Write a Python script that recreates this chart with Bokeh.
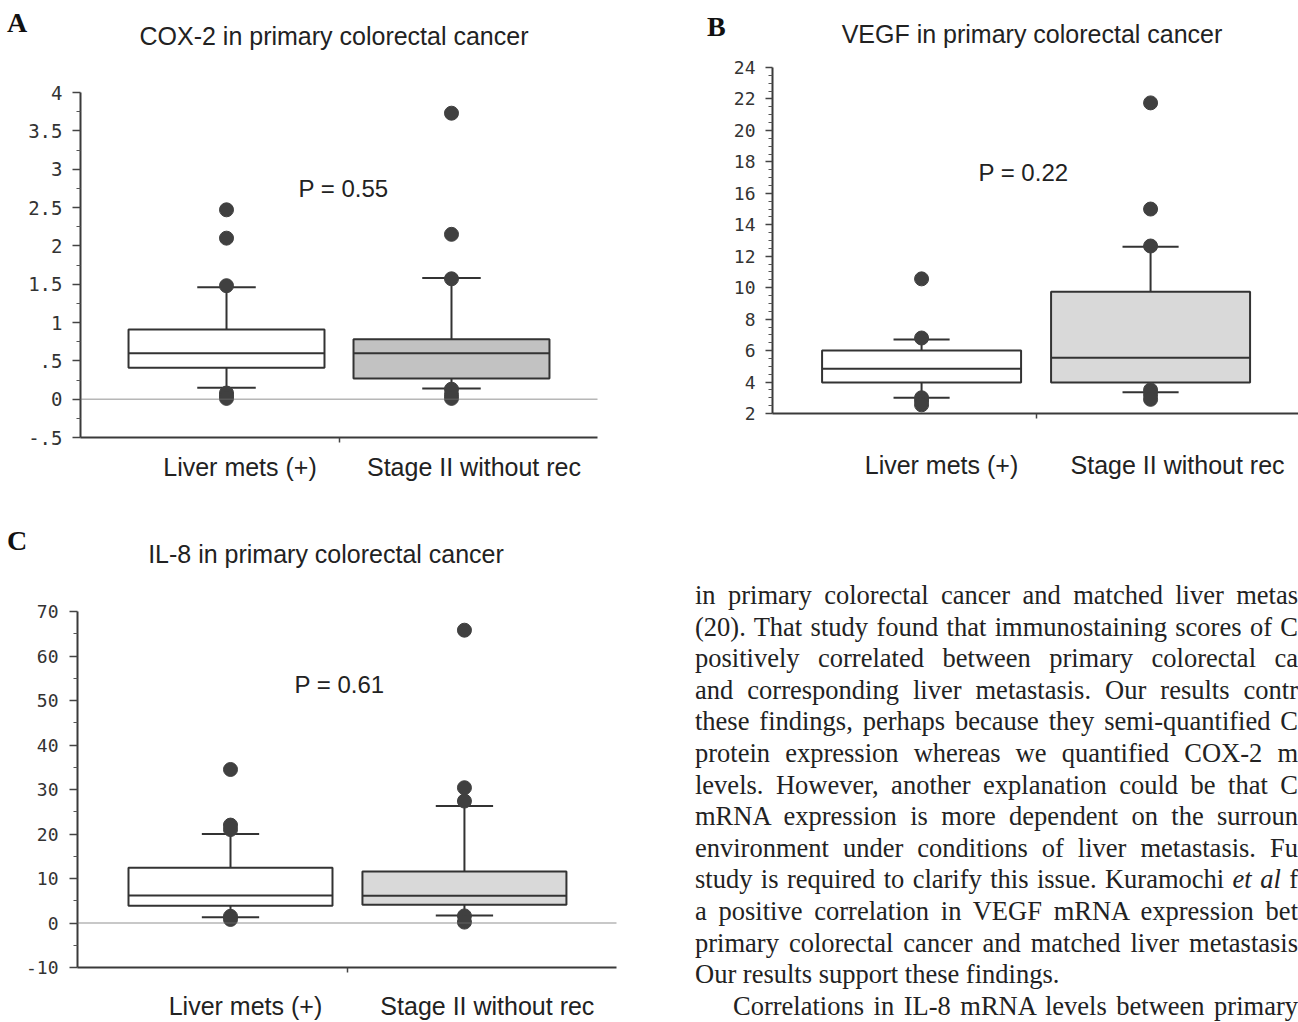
from bokeh.plotting import figure
from bokeh.layouts import row, column
from bokeh.models import FixedTicker, Span, Label, Range1d, ColumnDataSource, Div
from bokeh.embed import file_html
from bokeh.resources import INLINE

groups = ["Liver mets (+)", "Stage II without rec"]
positions = [1, 2]

# ---- Panel A: COX-2 ----
cox_q1 = [0.41, 0.27]
cox_med = [0.60, 0.60]
cox_q3 = [0.91, 0.78]
cox_lo = [0.15, 0.14]
cox_hi = [1.46, 1.58]
cox_out_liver = [2.47, 2.10, 1.48, 0.08, 0.04, 0.01]
cox_out_stage = [3.73, 2.15, 1.57, 0.13, 0.06, 0.01]
cox_ticks = [-0.5, 0, 0.5, 1, 1.5, 2, 2.5, 3, 3.5, 4]
cox_tick_labels = ["-.5", "0", ".5", "1", "1.5", "2", "2.5", "3", "3.5", "4"]
cox_minor = [-0.25, 0.25, 0.75, 1.25, 1.75, 2.25, 2.75, 3.25, 3.75]

# ---- Panel B: VEGF ----
vegf_q1 = [3.97, 3.97]
vegf_med = [4.85, 5.55]
vegf_q3 = [6.0, 9.74]
vegf_lo = [3.0, 3.35]
vegf_hi = [6.7, 12.6]
vegf_out_liver = [10.56, 6.8, 3.0, 2.8, 2.55]
vegf_out_stage = [21.75, 15.0, 12.65, 3.5, 3.2, 2.9]
vegf_ticks = [2, 4, 6, 8, 10, 12, 14, 16, 18, 20, 22, 24]
vegf_tick_labels = [str(v) for v in vegf_ticks]
vegf_minor = [v / 2 for v in range(4, 49) if v % 4 != 0]

# ---- Panel C: IL-8 ----
il8_q1 = [3.9, 4.1]
il8_med = [6.2, 6.1]
il8_q3 = [12.4, 11.6]
il8_lo = [1.3, 1.7]
il8_hi = [20.0, 26.3]
il8_out_liver = [34.5, 22.0, 21.0, 1.5, 0.8]
il8_out_stage = [65.8, 30.4, 27.4, 1.6, 0.2]
il8_ticks = [-10, 0, 10, 20, 30, 40, 50, 60, 70]
il8_tick_labels = [str(v) for v in il8_ticks]
il8_minor = [-5, 5, 15, 25, 35, 45, 55, 65]

EDGE = "#333333"
TXT = "#222222"


def header(w, h, letter, lx, ltop, title, tx, ttop):
    half = min(tx, w - tx)
    html = (
        f'<div style="position:relative;width:{w}px;height:{h}px;overflow:hidden;">'
        f'<div style="position:absolute;left:{lx}px;top:{ltop}px;font-family:\'Liberation Serif\',serif;'
        f'font-weight:bold;font-size:28px;line-height:32px;color:#111;">{letter}</div>'
        f'<div style="position:absolute;left:{tx - half}px;width:{2 * half}px;top:{ttop}px;'
        f'text-align:center;font-family:\'Liberation Sans\',sans-serif;font-size:25px;'
        f'line-height:30px;color:#222;white-space:nowrap;">{title}</div>'
        '</div>'
    )
    return Div(text=html, width=w, height=h, margin=(0, 0, 0, 0))


def panel(w, h, borders, xr, yr, yt, yl, ym, tick_px, ytick_out, ystand,
          xlab_pos, xstand, q1, med, q3, lo, hi, out1, out2, fill2,
          box_w, cap_w, ptext, pxy, zero):
    bl, br, bt, bb = borders
    p = figure(width=w, height=h, x_range=Range1d(*xr), y_range=Range1d(*yr),
               toolbar_location=None, tools="", output_backend="svg",
               min_border_left=bl, min_border_right=br,
               min_border_top=bt, min_border_bottom=bb, margin=(0, 0, 0, 0))
    p.outline_line_color = None
    p.xgrid.visible = False
    p.ygrid.visible = False
    p.background_fill_color = "white"
    p.border_fill_color = "white"

    ya = p.yaxis[0]
    ya.ticker = FixedTicker(ticks=yt, minor_ticks=ym)
    ya.major_label_overrides = {float(v): s for v, s in zip(yt, yl)}
    ya.axis_line_color = "#3a3a3a"
    ya.axis_line_width = 2
    ya.major_tick_line_color = "#444444"
    ya.major_tick_line_width = 1.5
    ya.major_tick_out = ytick_out
    ya.major_tick_in = 0
    ya.minor_tick_line_color = "#555555"
    ya.minor_tick_line_width = 1.2
    ya.minor_tick_out = 4
    ya.minor_tick_in = 0
    ya.major_label_text_font = "DejaVu Sans Mono"
    ya.major_label_text_font_size = tick_px
    ya.major_label_text_color = "#333333"
    ya.major_label_standoff = ystand

    xa = p.xaxis[0]
    xa.ticker = FixedTicker(ticks=xlab_pos, minor_ticks=[1.5])
    xa.major_label_overrides = {xlab_pos[0]: groups[0], xlab_pos[1]: groups[1]}
    xa.axis_line_color = "#3a3a3a"
    xa.axis_line_width = 2
    xa.major_tick_line_color = None
    xa.major_tick_out = 0
    xa.major_tick_in = 0
    xa.minor_tick_line_color = "#444444"
    xa.minor_tick_line_width = 1.5
    xa.minor_tick_out = 5
    xa.minor_tick_in = 0
    xa.major_label_text_font = "Liberation Sans"
    xa.major_label_text_font_size = "25px"
    xa.major_label_text_color = TXT
    xa.major_label_standoff = xstand

    if zero:
        p.add_layout(Span(location=0, dimension="width", line_color="#6e6e6e",
                          line_width=1.5, line_dash="1 1"))

    src = ColumnDataSource(dict(
        x=positions, q1=q1, med=med, q3=q3, lo=lo, hi=hi,
        fill=["white", fill2],
        bx0=[x - box_w / 2 for x in positions], bx1=[x + box_w / 2 for x in positions],
        cx0=[x - cap_w / 2 for x in positions], cx1=[x + cap_w / 2 for x in positions],
    ))
    p.segment(x0="x", y0="q3", x1="x", y1="hi", source=src, line_color=EDGE, line_width=2)
    p.segment(x0="x", y0="lo", x1="x", y1="q1", source=src, line_color=EDGE, line_width=2)
    p.segment(x0="cx0", y0="hi", x1="cx1", y1="hi", source=src, line_color=EDGE, line_width=2)
    p.segment(x0="cx0", y0="lo", x1="cx1", y1="lo", source=src, line_color=EDGE, line_width=2)
    p.vbar(x="x", width=box_w, bottom="q1", top="q3", source=src,
           fill_color="fill", line_color=EDGE, line_width=2)
    p.segment(x0="bx0", y0="med", x1="bx1", y1="med", source=src, line_color=EDGE, line_width=2)
    ox = [positions[0]] * len(out1) + [positions[1]] * len(out2)
    oy = list(out1) + list(out2)
    p.scatter(x=ox, y=oy, size=14, fill_color="#404040", line_color="#404040")

    p.add_layout(Label(x=pxy[0], y=pxy[1], text=ptext, text_font="Liberation Sans",
                       text_font_size="24px", text_color=TXT, text_align="center",
                       text_baseline="middle"))
    return p


hA = header(650, 60, "A", 7, 7, "COX-2 in primary colorectal cancer", 334, 21)
pA = panel(650, 440, (80, 53, 32, 63), (0.351, 2.649), (-0.5, 4),
           cox_ticks, cox_tick_labels, cox_minor, "19px", 8, 10,
           [1.06, 2.10], 10, cox_q1, cox_med, cox_q3, cox_lo, cox_hi,
           cox_out_liver, cox_out_stage, "#c2c2c2", 0.871, 0.26,
           "P = 0.55", (1.52, 2.75), True)

hB = header(648, 58, "B", 57, 11, "VEGF in primary colorectal cancer", 382, 19)
pB = panel(648, 442, (122, 0, 9, 87), (0.349, 2.646), (2, 24),
           vegf_ticks, vegf_tick_labels, vegf_minor, "18px", 7, 10,
           [1.087, 2.118], 32, vegf_q1, vegf_med, vegf_q3, vegf_lo, vegf_hi,
           vegf_out_liver, vegf_out_stage, "#d9d9d9", 0.869, 0.245,
           "P = 0.22", (1.445, 17.3), False)

hC = header(650, 100, "C", 7, 25, "IL-8 in primary colorectal cancer", 326, 39)
pC = panel(650, 422, (77, 34, 11, 51), (0.346, 2.65), (-10, 70),
           il8_ticks, il8_tick_labels, il8_minor, "18px", 8, 11,
           [1.064, 2.098], 19, il8_q1, il8_med, il8_q3, il8_lo, il8_hi,
           il8_out_liver, il8_out_stage, "#d9d9d9", 0.872, 0.245,
           "P = 0.61", (1.466, 53.6), True)

text_lines = [
    "in primary colorectal cancer and matched liver metas",
    "(20). That study found that immunostaining scores of C",
    "positively correlated between primary colorectal ca",
    "and corresponding liver metastasis. Our results contr",
    "these findings, perhaps because they semi-quantified C",
    "protein expression whereas we quantified COX-2 m",
    "levels. However, another explanation could be that C",
    "mRNA expression is more dependent on the surroun",
    "environment under conditions of liver metastasis. Fu",
    "study is required to clarify this issue. Kuramochi <i>et al</i> f",
    "a positive correlation in VEGF mRNA expression bet",
    "primary colorectal cancer and matched liver metastasis",
    "Our results support these findings.",
    "Correlations in IL-8 mRNA levels between primary",
]

parts = []
for i, ln in enumerate(text_lines):
    if i == 12:
        style = "text-align:left;"
    elif i == 13:
        style = "text-align:justify;text-align-last:justify;padding-left:38px;"
    else:
        style = "text-align:justify;text-align-last:justify;"
    parts.append(f'<div style="{style}">{ln}</div>')

html = ('<div style="box-sizing:border-box;font-family:\'Liberation Serif\',serif;font-size:26.5px;'
        'color:#222;line-height:31.6px;padding-top:80px;padding-left:45px;width:648px;'
        'height:522px;overflow:hidden;">' + "".join(parts) + '</div>')

div = Div(text=html, width=648, height=522, margin=(0, 0, 0, 0))

layout = column(
    row(column(hA, pA, spacing=0), column(hB, pB, spacing=0), spacing=0),
    row(column(hC, pC, spacing=0), div, spacing=0),
    spacing=0,
)

open("out.html", "w").write(file_html(layout, INLINE))
